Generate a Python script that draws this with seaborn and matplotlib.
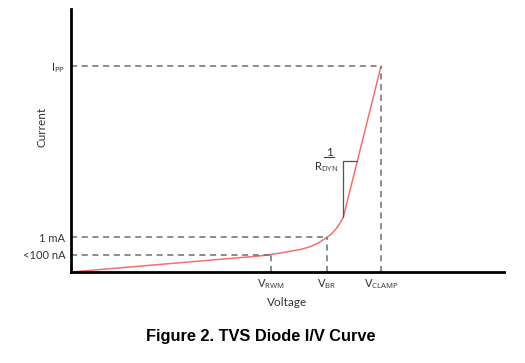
import matplotlib
matplotlib.use("Agg")
import matplotlib.pyplot as plt
import seaborn as sns
import pandas as pd

# TVS diode I/V curve, arbitrary units (axes span 0..100)
curve_v = [0, 43.6, 46.2, 48.7, 51.3, 53.3, 55.2, 57.1, 59.1, 60.2, 61.3, 62.1, 62.9, 71.6]
curve_i = [0, 6.1, 6.7, 7.3, 8.1, 8.7, 9.6, 11.0, 13.2, 14.5, 16.6, 18.5, 20.9, 78.3]

v_marks = [46.2, 59.1, 71.6]
v_labels = [r"V$_{\mathrm{RWM}}$", r"V$_{\mathrm{BR}}$", r"V$_{\mathrm{CLAMP}}$"]
i_marks = [6.65, 13.2, 78.3]
i_labels = ["<100 nA", "1 mA", r"I$_{\mathrm{PP}}$"]

knee = (62.9, 20.9)
tri_top = 42.2
tri_right = 66.1

sns.set_style("white")
plt.rcParams['font.family'] = ['Lato', 'DejaVu Sans']
plt.rcParams['mathtext.fontset'] = 'custom'
plt.rcParams['mathtext.rm'] = 'Open Sans'

fig = plt.figure(figsize=(5.25, 3.63), dpi=100)
ax = fig.add_axes([71/525, 91/363, 433/525, 263/363])

df = pd.DataFrame({"v": curve_v, "i": curve_i})
sns.lineplot(data=df, x="v", y="i", ax=ax, color="#f76f6f", lw=1.1, sort=False)

# dashed guide lines
for v, i in zip(v_marks, i_marks):
    ax.plot([0, v], [i, i], ls=(0, (4, 3)), color="#6e6e6e", lw=1.1)
    ax.plot([v, v], [0, i], ls=(0, (4, 3)), color="#6e6e6e", lw=1.1)

# slope triangle
ax.plot([knee[0], knee[0], tri_right], [knee[1], tri_top, tri_top], color="#555555", lw=0.9)
ax.text(59.6, 45.4, "1", ha="center", va="center", fontsize=8.5, color="#333333")
ax.plot([58.4, 60.8], [43.6, 43.6], color="#333333", lw=0.8)
ax.text(58.9, 39.9, r"R$_{\mathrm{DYN}}$", ha="center", va="center", fontsize=8, color="#333333")

ax.set_xlim(0, 100)
ax.set_ylim(0, 100)
ax.set_xticks(v_marks)
ax.set_xticklabels(v_labels, fontsize=8, color="#333333")
ax.set_yticks(i_marks)
ax.set_yticklabels(i_labels, fontsize=8, color="#333333")
ax.tick_params(length=0, pad=4)
ax.set_xlabel("Voltage", fontsize=8.5, color="#333333", labelpad=4)
ax.set_ylabel("Current", fontsize=8.5, color="#333333", labelpad=0)
ax.yaxis.set_label_coords(-0.055, 0.55)

for s in ["top", "right"]:
    ax.spines[s].set_visible(False)
for s in ["left", "bottom"]:
    ax.spines[s].set_color("black")
    ax.spines[s].set_linewidth(2)

fig.text(261/525, 1 - 336/363, "Figure 2. TVS Diode I/V Curve", ha="center", va="center",
         fontsize=11.8, fontweight="bold", family="Liberation Sans", color="black")

fig.savefig("out.png", dpi=100)
